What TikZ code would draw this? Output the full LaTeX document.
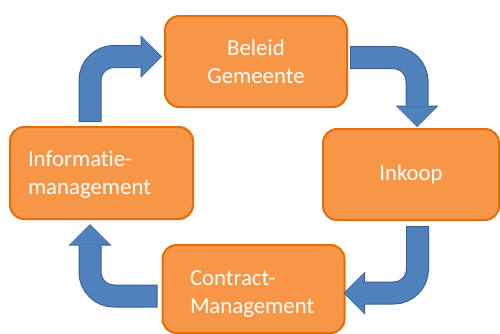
\documentclass[tikz,border=0pt]{standalone}
\usepackage{fontspec}
\setmainfont{Carlito}[Ligatures=CommonOff]
\usetikzlibrary{arrows.meta,positioning}
\definecolor{boxfill}{HTML}{F79646}
\definecolor{boxline}{HTML}{E46C0A}
\definecolor{arrfill}{HTML}{4F81BD}
\definecolor{arrline}{HTML}{385D8A}

\begin{document}
\begin{tikzpicture}[x=1pt,y=-1pt,
    stap/.style={draw=boxline, fill=boxfill, line width=2pt, rounded corners=14pt,
      minimum width=182pt, minimum height=91pt, inner sep=0pt, text=white,
      font=\fontsize{22.8}{28}\selectfont},
    pijlrand/.style={draw=arrline, line width=23pt, rounded corners=24pt, shorten <=-1pt,
      -{Triangle[length=21.5pt,width=43pt,line width=0pt]}},
    pijlvul/.style={draw=arrfill, line width=21pt, rounded corners=24pt, shorten >=1pt,
      -{Triangle[length=19.5pt,width=40pt,line width=0pt]}}]
                \clip (0,0) rectangle (500,333);
                \useasboundingbox (0,0) rectangle (500,333);
                % the four steps
                \node [stap, align=center] (beleid) at (256,61.5) {Beleid\\Gemeente};
                \node [stap, minimum width=176pt] (inkoop) at (411,174.5) {Inkoop};
                \node [stap, minimum height=88pt, align=left, text width=127pt] (contract) at (253.5,289) {\rule{0pt}{24pt}Contract-\\Management};
                \node [stap, minimum width=183pt, minimum height=92pt, align=left, text width=147pt] (info) at (101.5,173) {\rule{0pt}{18pt}Informatie-\\management};
                % bent arrows, outline first then filling
                \foreach \s in {pijlrand,pijlvul} {
                  \draw [\s] ([xshift=-11.5pt,yshift=5pt]info.north) |- ([xshift=-2pt,yshift=5pt]beleid.west);
                  \draw [\s] ([xshift=3pt,yshift=4pt]beleid.east) -| ([xshift=6pt,yshift=1pt]inkoop.north);
                  \draw [\s] ([xshift=6.5pt,yshift=-6pt]inkoop.south) |- ([xshift=-2pt,yshift=-4pt]contract.east);
                  \draw [\s] ([xshift=-5pt,yshift=-7pt]contract.west) -| ([xshift=-11.5pt,yshift=-4pt]info.south);
                }
\end{tikzpicture}
\end{document}
